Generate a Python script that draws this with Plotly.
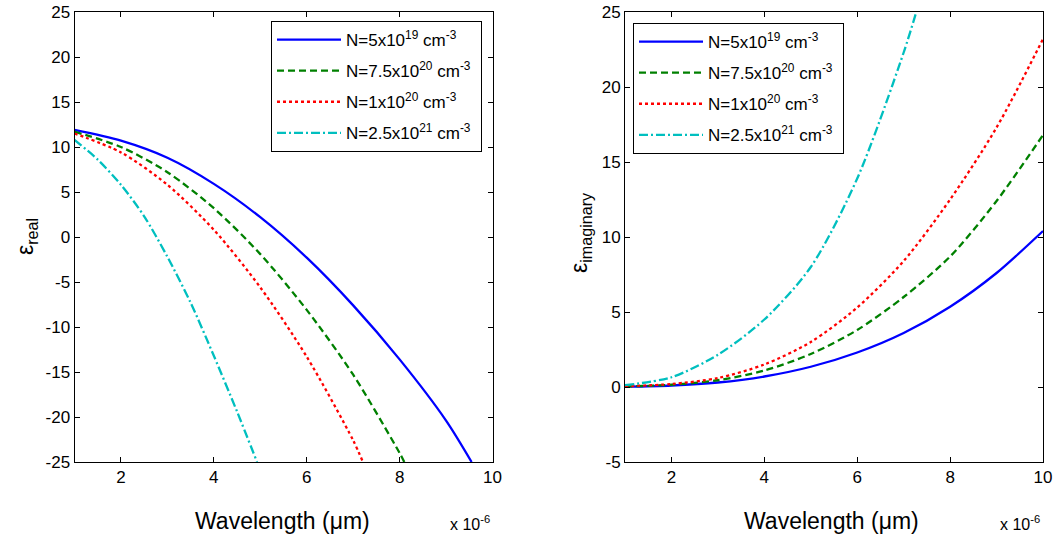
import plotly.graph_objects as go

# ---------------- data (wavelength in units of 1e-6 m) ----------------
series_names = [
    "N=5x10<sup>19</sup> cm<sup>-3</sup>",
    "N=7.5x10<sup>20</sup> cm<sup>-3</sup>",
    "N=1x10<sup>20</sup> cm<sup>-3</sup>",
    "N=2.5x10<sup>21</sup> cm<sup>-3</sup>",
]

# real part
real_wl_blue = [1, 2, 3, 4, 5, 6, 7, 8, 9, 9.55]
real_blue = [11.9, 10.7, 8.8, 5.9, 2.2, -2.3, -7.6, -13.6, -20.4, -25]
real_wl_green = [1, 2, 3, 4, 5, 6, 7, 8, 8.1]
real_green = [11.7, 10.0, 7.2, 3.2, -1.9, -8.1, -15.3, -24.0, -25]
real_wl_red = [1, 2, 3, 4, 5, 6, 7, 7.21]
real_red = [11.5, 9.4, 5.8, 0.8, -5.6, -13.3, -22.6, -25]
real_wl_cyan = [1, 1.5, 2, 2.5, 3, 3.5, 4, 4.5, 4.93]
real_cyan = [10.8, 8.6, 5.8, 2.3, -2.2, -7.3, -13.2, -19.4, -25]

# imaginary part
imag_wl = [1, 2, 3, 4, 5, 6, 7, 8, 9, 10]
imag_blue = [0.02, 0.1, 0.3, 0.7, 1.35, 2.3, 3.6, 5.35, 7.6, 10.4]
imag_green = [0.03, 0.15, 0.45, 1.1, 2.2, 3.8, 6.0, 8.7, 12.4, 16.8]
imag_red = [0.05, 0.2, 0.6, 1.5, 3.0, 5.3, 8.4, 12.5, 17.3, 23.2]
imag_wl_cyan = [1, 2, 3, 4, 5, 6, 7, 7.3]
imag_cyan = [0.12, 0.65, 2.15, 4.5, 8.0, 13.9, 22.3, 25.3]

x_ticks = [2, 4, 6, 8, 10]
y_ticks_real = [-25, -20, -15, -10, -5, 0, 5, 10, 15, 20, 25]
y_ticks_imag = [-5, 0, 5, 10, 15, 20, 25]

# ---------------- styles ----------------
colors = ["#0000FF", "#008000", "#FF0000", "#00BFBF"]
dashes = ["solid", "7px,4px", "3px,3px", "9px,3px,2px,3px"]
FONT = "Liberation Sans, Arial, sans-serif"
LW = 2.3

W, H = 1054, 546

fig = go.Figure()

real_sets = [(real_wl_blue, real_blue), (real_wl_green, real_green),
             (real_wl_red, real_red), (real_wl_cyan, real_cyan)]
imag_sets = [(imag_wl, imag_blue), (imag_wl, imag_green),
             (imag_wl, imag_red), (imag_wl_cyan, imag_cyan)]

PAD = "\u00a0"

for i, (xs, ys) in enumerate(real_sets):
    fig.add_trace(go.Scatter(
        x=xs, y=ys, mode="lines", name=series_names[i] + PAD, legendgroup="r%d" % i,
        line=dict(color=colors[i], width=LW, dash=dashes[i], shape="spline", smoothing=0.8),
        xaxis="x", yaxis="y", legend="legend"))

for i, (xs, ys) in enumerate(imag_sets):
    fig.add_trace(go.Scatter(
        x=xs, y=ys, mode="lines", name=series_names[i] + PAD, legendgroup="i%d" % i,
        line=dict(color=colors[i], width=LW, dash=dashes[i], shape="spline", smoothing=0.8),
        xaxis="x2", yaxis="y2", legend="legend2"))

def px_x(p):
    return p / W

def px_y(p):
    return 1 - p / H

def hy(v):
    return str(v).replace("\u2212", "-")

axis_common = dict(
    showline=True, linecolor="black", linewidth=1, mirror="ticks",
    ticks="inside", ticklen=5, tickcolor="black", showgrid=False, zeroline=False,
    automargin=False, ticklabeloverflow="allow",
    tickfont=dict(family=FONT, size=17, color="black"),
)

ydom = [px_y(462), px_y(12)]

fig.update_layout(
    width=W, height=H,
    margin=dict(l=0, r=0, t=0, b=0, autoexpand=False),
    paper_bgcolor="white", plot_bgcolor="white",
    font=dict(family=FONT, color="black"),
    xaxis=dict(domain=[px_x(74.5), px_x(492.5)], range=[1, 10], tickvals=x_ticks,
               ticktext=[hy(v) for v in x_ticks], anchor="y", **axis_common),
    yaxis=dict(domain=ydom, range=[-25, 25], tickvals=y_ticks_real,
               ticktext=[hy(v) for v in y_ticks_real], anchor="x", **axis_common),
    xaxis2=dict(domain=[px_x(625), px_x(1043)], range=[1, 10], tickvals=x_ticks,
                ticktext=[hy(v) for v in x_ticks], anchor="y2", **axis_common),
    yaxis2=dict(domain=ydom, range=[-5, 25], tickvals=y_ticks_imag,
                ticktext=[hy(v) for v in y_ticks_imag], anchor="x2", **axis_common),
    legend=dict(x=px_x(271), y=px_y(21), xanchor="left", yanchor="top",
                bgcolor="white", bordercolor="black", borderwidth=1,
                font=dict(family=FONT, size=17, color="black"), itemwidth=64,
                tracegroupgap=6),
    legend2=dict(x=px_x(633), y=px_y(23), xanchor="left", yanchor="top",
                 bgcolor="white", bordercolor="black", borderwidth=1,
                 font=dict(family=FONT, size=17, color="black"), itemwidth=64,
                 tracegroupgap=6),
    showlegend=True,
)

annotations = [
    dict(text="Wavelength (\u03bcm)", x=px_x(282), y=px_y(521), xref="paper", yref="paper",
         showarrow=False, font=dict(family=FONT, size=23, color="black"),
         xanchor="center", yanchor="middle"),
    dict(text="Wavelength (\u03bcm)", x=px_x(831), y=px_y(521), xref="paper", yref="paper",
         showarrow=False, font=dict(family=FONT, size=23, color="black"),
         xanchor="center", yanchor="middle"),
    dict(text="x 10<sup>-6</sup>", x=px_x(470), y=px_y(523), xref="paper", yref="paper",
         showarrow=False, font=dict(family=FONT, size=16, color="black"),
         xanchor="center", yanchor="middle"),
    dict(text="x 10<sup>-6</sup>", x=px_x(1020), y=px_y(523), xref="paper", yref="paper",
         showarrow=False, font=dict(family=FONT, size=16, color="black"),
         xanchor="center", yanchor="middle"),
    dict(text="\u03b5<sub>real</sub>", x=px_x(26), y=px_y(237), xref="paper", yref="paper",
         showarrow=False, textangle=-90, font=dict(family=FONT, size=23, color="black"),
         xanchor="center", yanchor="middle"),
    dict(text="\u03b5<sub>imaginary</sub>", x=px_x(580), y=px_y(233), xref="paper", yref="paper",
         showarrow=False, textangle=-90, font=dict(family=FONT, size=23, color="black"),
         xanchor="center", yanchor="middle"),
]
fig.update_layout(annotations=annotations)

# remove the default page margin so the figure fills the 1054x546 window exactly
fig.write_html(
    "out.html",
    config={"displayModeBar": False},
    post_script="document.body.style.margin='0';document.body.style.overflow='hidden';",
)
